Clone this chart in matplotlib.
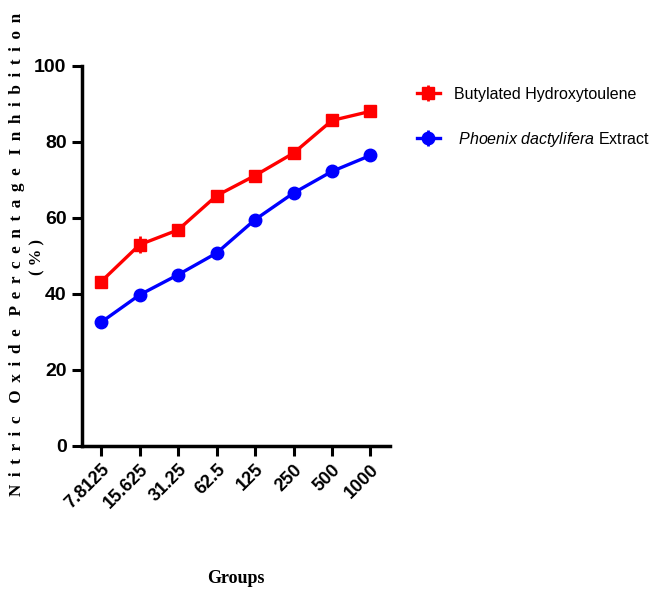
import matplotlib
matplotlib.use("Agg")
import matplotlib.pyplot as plt
import numpy as np

groups = ["7.8125", "15.625", "31.25", "62.5", "125", "250", "500", "1000"]
bht = [43.2, 52.9, 56.8, 65.8, 71.1, 77.0, 85.6, 88.0]
bht_err = [1.5, 2.2, 1.3, 1.3, 1.2, 1.2, 1.2, 1.0]
pde = [32.5, 39.7, 45.0, 50.7, 59.5, 66.5, 72.2, 76.4]
pde_err = [1.0, 1.0, 1.0, 1.0, 1.0, 1.0, 1.0, 1.0]
yticks = [0, 20, 40, 60, 80, 100]

plt.rcParams['mathtext.fontset'] = 'custom'
plt.rcParams['mathtext.it'] = 'Liberation Sans:italic'
plt.rcParams['mathtext.rm'] = 'Liberation Sans'

sans = ['Liberation Sans', 'DejaVu Sans']
serif = ['Liberation Serif', 'DejaVu Serif']

fig = plt.figure(figsize=(6.55, 5.92), dpi=100)
ax = fig.add_axes([0.125, 0.247, 0.47, 0.642])
x = np.arange(len(groups))

ax.errorbar(x, bht, yerr=bht_err, color='#ff0000', marker='s', markersize=9,
            linewidth=2.4, elinewidth=2, capsize=0, label='Butylated Hydroxytoulene')
ax.errorbar(x, pde, yerr=pde_err, color='#0000ff', marker='o', markersize=9,
            linewidth=2.4, elinewidth=2, capsize=0,
            label=r' $\it{Phoenix\ dactylifera}$ Extract')

ax.set_xlim(-0.5, len(groups) - 0.5)
ax.set_ylim(0, 100)
ax.set_yticks(yticks)
ax.set_xticks(x)
ax.set_xticklabels(groups, rotation=45, ha='right', rotation_mode='anchor',
                   fontsize=13, fontweight='bold', family=sans)
ax.set_yticklabels([str(v) for v in yticks], fontsize=14, fontweight='bold', family=sans)

for s in ['top', 'right']:
    ax.spines[s].set_visible(False)
for s in ['left', 'bottom']:
    ax.spines[s].set_linewidth(2.5)
ax.tick_params(axis='both', direction='out', length=7, width=2.2, pad=4)

label_words = ["Nitric", "Oxide", "Percentage", "Inhibition"]
ylab = "   ".join(" \u2009".join(w) for w in label_words)
fig.text(0.026, 0.570, ylab,
         rotation=90, ha='center', va='center', fontsize=12.3, fontweight='bold',
         family=serif)
fig.text(0.057, 0.566, '( % )', rotation=90, ha='center', va='center', fontsize=12,
         fontweight='bold', family=serif)

fig.text(0.36, 0.008, 'Groups', ha='center', va='bottom', fontsize=13, fontweight='bold',
         family=serif)

leg = fig.legend(loc='upper left', bbox_to_anchor=(0.615, 0.878), frameon=False,
                 prop={'family': sans, 'size': 11.5}, handlelength=1.4,
                 handletextpad=0.9, labelspacing=1.75)

fig.savefig('out.png', dpi=100)
